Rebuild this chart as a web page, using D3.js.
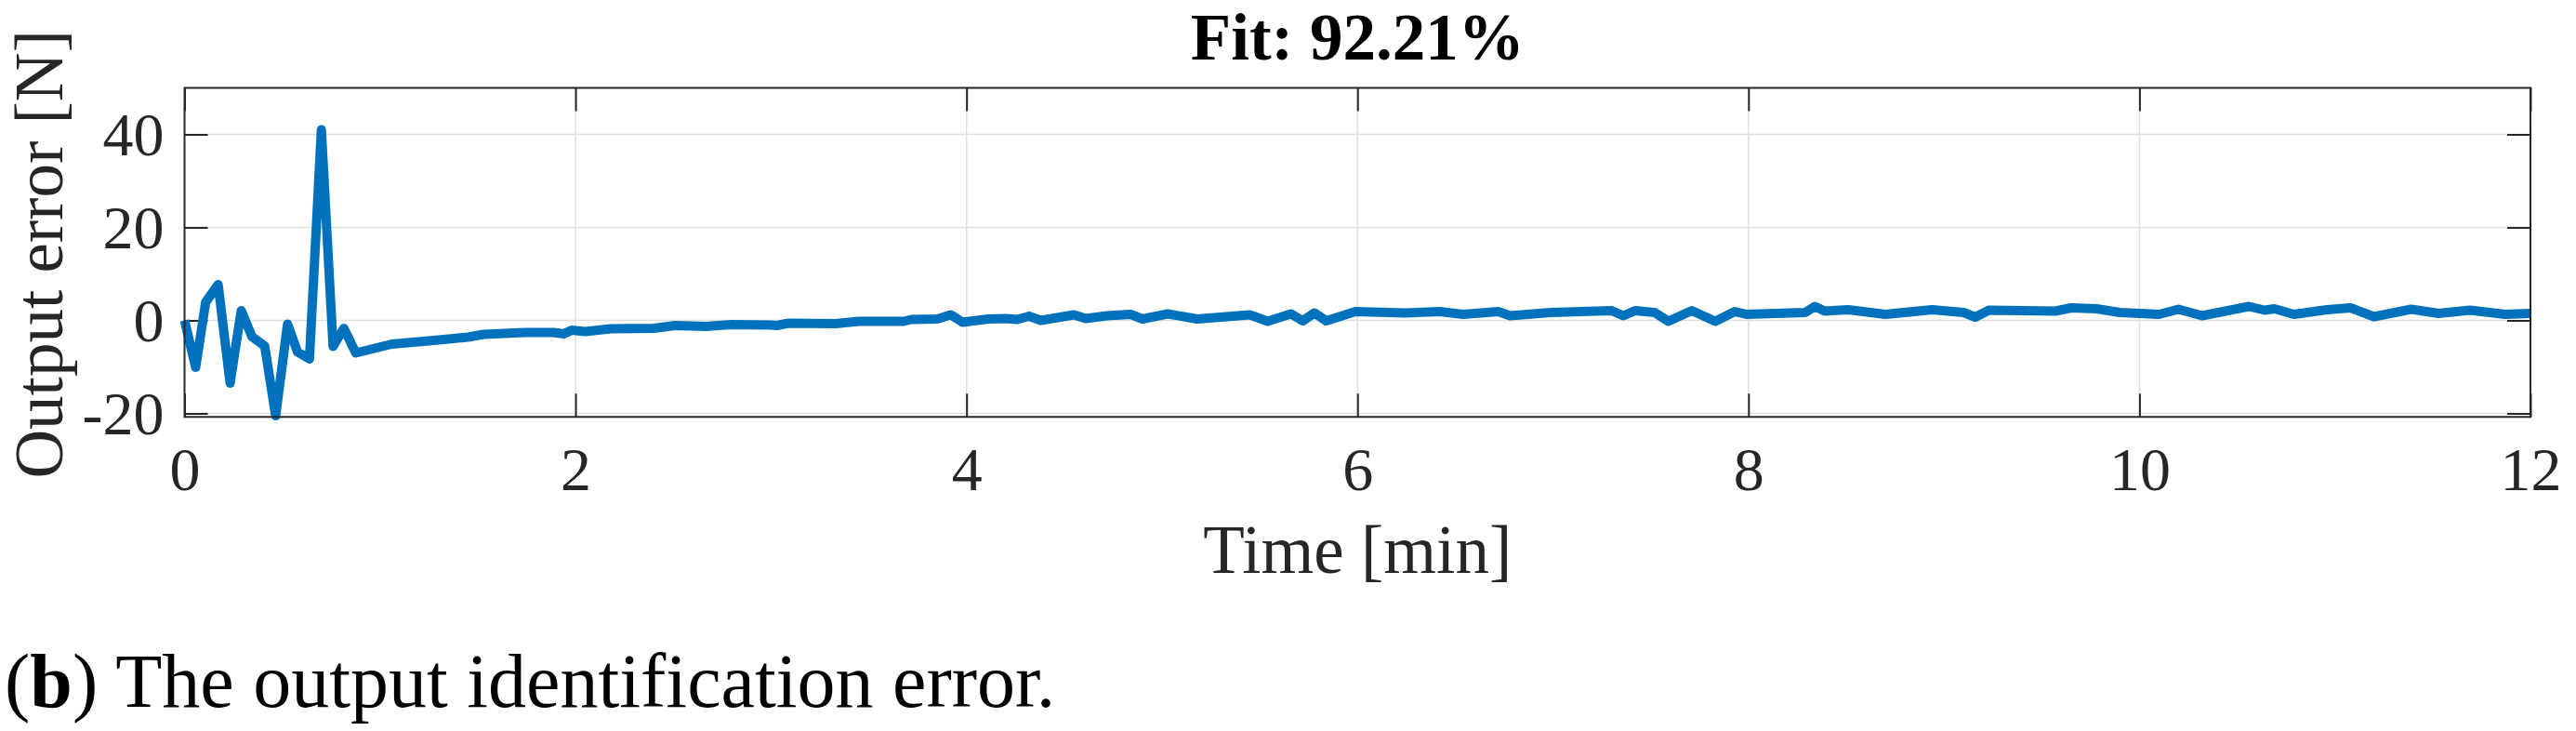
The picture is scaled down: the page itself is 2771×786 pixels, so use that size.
<!DOCTYPE html>
<html lang="en">
<head>
	<meta charset="UTF-8">
	<title>Output identification error</title>
	<script type="text/javascript" src="https://cdn.jsdelivr.net/npm/d3@7"></script>
	<style>
		body {
			margin: 0;
			background: #fff;
		}
		svg text {
			font-family: "Liberation Serif", "Times New Roman", serif;
			fill: #262626;
		}
	</style>
</head>
<body>
<div id="viz"></div>

<script type="text/javascript">
	// time axis [min] and output error [N]
	var timeMin = [0, 0.057, 0.108, 0.172, 0.233, 0.29, 0.345, 0.41, 0.466, 0.527, 0.578, 0.639, 0.7, 0.76, 0.815, 0.876,
		1.06, 1.25, 1.45, 1.53, 1.74, 1.89, 1.94, 1.98, 2.05, 2.18, 2.4, 2.51, 2.67, 2.8, 3.0, 3.03, 3.09, 3.33,
		3.45, 3.68, 3.72, 3.85, 3.92, 3.98,
		4.11, 4.2, 4.26, 4.32, 4.38, 4.55, 4.61, 4.72, 4.84, 4.9, 5.03, 5.18, 5.33, 5.45, 5.54,
		5.66, 5.72, 5.78, 5.84, 5.99, 6.24, 6.42, 6.54, 6.72, 6.78, 6.99, 7.3, 7.36, 7.42, 7.52, 7.59, 7.71, 7.83,
		7.93, 7.99, 8.29, 8.34, 8.39, 8.51, 8.7, 8.94, 9.1, 9.16, 9.23, 9.57, 9.65, 9.78, 9.9, 10.1, 10.2, 10.32,
		10.56, 10.64, 10.69, 10.79, 10.96, 11.08, 11.2, 11.39, 11.53, 11.69, 11.87, 12];
	var errorN = [0, -10.1, 3.9, 7.7, -13.5, 2.1, -3.5, -5.5, -20.5, -0.8, -6.8, -8.3, 41, -5.6, -1.7, -7,
		-5.1, -4.4, -3.6, -3.0, -2.6, -2.6, -2.9, -2.1, -2.4, -1.8, -1.7, -1.1, -1.3, -0.9, -1.0, -1.1, -0.6, -0.7,
		-0.2, -0.2, 0.2, 0.3, 1.2, -0.4,
		0.3, 0.4, 0.2, 0.9, 0, 1.2, 0.4, 1, 1.3, 0.3, 1.4, 0.3, 0.8, 1.2, -0.2,
		1.4, -0.1, 1.6, -0.1, 1.9, 1.6, 1.9, 1.3, 1.9, 1, 1.7, 2.1, 1, 2.1, 1.7, -0.2, 2.1, -0.2,
		1.9, 1.3, 1.7, 3, 2, 2.3, 1.3, 2.3, 1.7, 0.7, 2.2, 2, 2.7, 2.5, 1.7, 1.3, 2.4, 1,
		3, 2.2, 2.5, 1.3, 2.3, 2.7, 0.8, 2.4, 1.5, 2.2, 1.3, 1.5];

	var xTicks = [0, 2, 4, 6, 8, 10, 12];
	var yTicks = [-20, 0, 20, 40];

	var titleText = 'Fit: 92.21%';
	var xLabel = 'Time [min]';
	var yLabel = 'Output error [N]';

	window.onload = function () {

		var W = 2771, H = 786;
		var box = {left: 198.5, right: 2722, top: 94.5, bottom: 448.3};
		var tickLen = 25;

		var x = d3.scaleLinear().domain([0, 12]).range([box.left, box.right]);
		var y = d3.scaleLinear().domain([-20.76, 50]).range([box.bottom, box.top]);

		// plain hyphen for negatives, like the original
		var fmt = function (d) { return String(d); };

		var svg = d3.select('#viz')
			.append('svg')
			.attr('width', W)
			.attr('height', H);

		svg.append('rect').attr('width', W).attr('height', H).attr('fill', '#fff');

		// grid
		var grid = svg.append('g').attr('class', 'grid');
		grid.selectAll('.vg')
			.data(xTicks.slice(1, -1))
			.enter().append('line')
			.attr('x1', function (d) { return x(d); })
			.attr('x2', function (d) { return x(d); })
			.attr('y1', box.top).attr('y2', box.bottom)
			.attr('stroke', '#dfdfdf').attr('stroke-width', 1.5);
		grid.selectAll('.hg')
			.data(yTicks)
			.enter().append('line')
			.attr('x1', box.left).attr('x2', box.right)
			.attr('y1', function (d) { return y(d); })
			.attr('y2', function (d) { return y(d); })
			.attr('stroke', '#dfdfdf').attr('stroke-width', 1.5);

		// axes: inward ticks on all four sides
		var xAxisB = d3.axisBottom(x).tickValues(xTicks).tickFormat(fmt).tickSizeInner(-tickLen).tickSizeOuter(0).tickPadding(32);
		var xAxisT = d3.axisTop(x).tickValues(xTicks).tickSizeInner(-tickLen).tickSizeOuter(0).tickFormat('');
		var yAxisL = d3.axisLeft(y).tickValues(yTicks).tickFormat(fmt).tickSizeInner(-tickLen).tickSizeOuter(0).tickPadding(22);
		var yAxisR = d3.axisRight(y).tickValues(yTicks).tickSizeInner(-tickLen).tickSizeOuter(0).tickFormat('');

		var gxb = svg.append('g').attr('transform', 'translate(0,' + box.bottom + ')').call(xAxisB);
		var gxt = svg.append('g').attr('transform', 'translate(0,' + box.top + ')').call(xAxisT);
		var gyl = svg.append('g').attr('transform', 'translate(' + box.left + ',0)').call(yAxisL);
		var gyr = svg.append('g').attr('transform', 'translate(' + box.right + ',0)').call(yAxisR);

		[gxb, gxt, gyl, gyr].forEach(function (g) {
			g.select('.domain').remove();
			g.selectAll('.tick line').attr('stroke', '#262626').attr('stroke-width', 2);
			g.selectAll('.tick text')
				.attr('fill', '#262626')
				.style('font-family', '"Liberation Serif", serif')
				.style('font-size', '66px');
		});
		gxb.selectAll('.tick text').attr('dy', '0.71em');
		gyl.selectAll('.tick text').attr('dy', '0.34em');

		// data line
		var pts = timeMin.map(function (t, i) { return [t, errorN[i]]; });
		var line = d3.line()
			.x(function (d) { return x(d[0]); })
			.y(function (d) { return y(d[1]); });

		svg.append('path')
			.datum(pts)
			.attr('d', line)
			.attr('fill', 'none')
			.attr('stroke', '#0072bd')
			.attr('stroke-width', 10)
			.attr('stroke-linejoin', 'round');

		// box
		svg.append('rect')
			.attr('x', box.left).attr('y', box.top)
			.attr('width', box.right - box.left).attr('height', box.bottom - box.top)
			.attr('fill', 'none').attr('stroke', '#262626').attr('stroke-width', 2);

		// texts
		svg.append('text')
			.attr('x', (box.left + box.right) / 2).attr('y', 64)
			.attr('text-anchor', 'middle')
			.style('font-size', '71px').style('font-weight', 'bold').style('fill', '#000')
			.text(titleText);

		svg.append('text')
			.attr('x', (box.left + box.right) / 2).attr('y', 616)
			.attr('text-anchor', 'middle')
			.style('font-size', '73px')
			.text(xLabel);

		svg.append('text')
			.attr('transform', 'translate(67,' + ((box.top + box.bottom) / 2 + 2) + ') rotate(-90)')
			.attr('text-anchor', 'middle')
			.style('font-size', '73px')
			.text(yLabel);

		var cap = svg.append('text')
			.attr('x', 5).attr('y', 760)
			.style('font-size', '82px').style('fill', '#000');
		cap.append('tspan').text('(');
		cap.append('tspan').style('font-weight', 'bold').text('b');
		cap.append('tspan').text(') The output identification error.');
	};
</script>
</body>
</html>
